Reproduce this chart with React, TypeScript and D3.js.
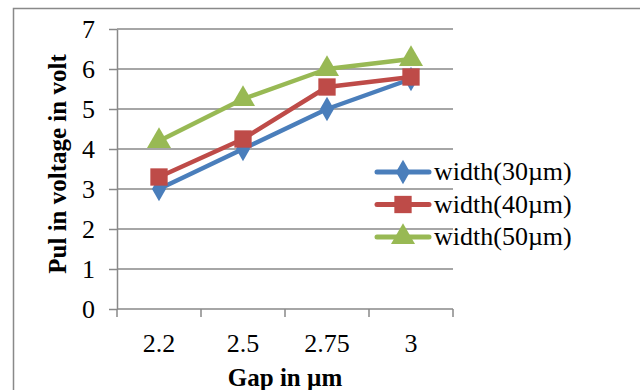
import React, { useEffect, useRef } from 'react';
import * as d3 from 'd3';

const gaps = ['2.2', '2.5', '2.75', '3'];
const yTicks = [0, 1, 2, 3, 4, 5, 6, 7];
const w30 = [3.0, 4.0, 5.0, 5.75];
const w40 = [3.3, 4.25, 5.55, 5.8];
const w50 = [4.2, 5.25, 6.0, 6.25];
const seriesNames = ['width(30µm)', 'width(40µm)', 'width(50µm)'];

/* excel 2007 palette */
const colors = ['#4a7ebb', '#be4b48', '#98b954'];
const shapes = [d3.symbolDiamond, d3.symbolSquare, d3.symbolTriangle];
const sizes = [170, 300, 250];

const W = 640, H = 390;
const M = { t: 29, r: 187, b: 81, l: 117 }; // plot box 117..453 x 29..309
const font = '"Liberation Serif", "Times New Roman", serif';
const grid = '#898989';

export default function App() {
  const ref = useRef<SVGSVGElement>(null);

  useEffect(() => {
    const svg = d3.select(ref.current);
    svg.selectAll('*').remove();

    const x = d3.scaleBand().domain(gaps).range([M.l, W - M.r]);
    const y = d3.scaleLinear().domain([0, 7]).range([H - M.b, M.t]);

    /* outer frame (runs off the page at right/bottom) */
    svg.append('rect')
      .attr('x', 13.5).attr('y', 8.5)
      .attr('width', 700).attr('height', 500)
      .attr('fill', 'none').attr('stroke', grid).attr('stroke-width', 1.5);

    /* gridlines */
    svg.append('g')
      .selectAll('line')
      .data(yTicks.slice(1))
      .join('line')
      .attr('x1', M.l).attr('x2', W - M.r)
      .attr('y1', d => y(d)).attr('y2', d => y(d))
      .attr('stroke', grid).attr('stroke-width', 1.5);

    /* y axis */
    const ya = svg.append('g')
      .attr('transform', `translate(${M.l},0)`)
      .call(d3.axisLeft(y).tickValues(yTicks).tickFormat(d3.format('d'))
        .tickSize(8).tickSizeOuter(0).tickPadding(14));
    ya.selectAll('path,line').attr('stroke', grid).attr('stroke-width', 1.5);
    ya.selectAll('text').attr('font-family', font).attr('font-size', 26).attr('fill', '#000');

    /* x axis: ticks between categories */
    const xa = svg.append('g').attr('transform', `translate(0,${H - M.b})`);
    xa.append('line')
      .attr('x1', M.l).attr('x2', W - M.r)
      .attr('stroke', grid).attr('stroke-width', 1.5);
    const edges = gaps.map(g => x(g)!).concat([W - M.r]);
    xa.selectAll('line.tk')
      .data(edges)
      .join('line')
      .attr('class', 'tk')
      .attr('x1', d => d).attr('x2', d => d)
      .attr('y1', 0).attr('y2', 8)
      .attr('stroke', grid).attr('stroke-width', 1.5);
    xa.selectAll('text')
      .data(gaps)
      .join('text')
      .attr('x', d => x(d)! + x.bandwidth() / 2)
      .attr('y', 43)
      .attr('text-anchor', 'middle')
      .attr('font-family', font).attr('font-size', 26)
      .text(d => d);

    /* axis titles */
    svg.append('text')
      .attr('transform', `translate(66,${164}) rotate(-90)`)
      .attr('text-anchor', 'middle')
      .attr('font-family', font).attr('font-size', 25).attr('font-weight', 'bold')
      .text('Pul in voltage in volt');

    svg.append('text')
      .attr('x', (M.l + W - M.r) / 2)
      .attr('y', 386)
      .attr('text-anchor', 'middle')
      .attr('font-family', font).attr('font-size', 25).attr('font-weight', 'bold')
      .text('Gap in µm');

    /* series */
    const cx = (i: number) => x(gaps[i])! + x.bandwidth() / 2;
    const line = d3.line<number>().x((_, i) => cx(i)).y(d => y(d));

    [w30, w40, w50].forEach((vals, s) => {
      svg.append('path')
        .datum(vals)
        .attr('fill', 'none')
        .attr('stroke', colors[s])
        .attr('stroke-width', 4.5)
        .attr('stroke-linejoin', 'round')
        .attr('d', line);

      svg.append('g')
        .selectAll('path')
        .data(vals)
        .join('path')
        .attr('transform', (d, i) => `translate(${cx(i)},${y(d)})`)
        .attr('d', d3.symbol().type(shapes[s]).size(sizes[s])())
        .attr('fill', colors[s]);
    });

    /* legend */
    const lg = svg.append('g');
    seriesNames.forEach((name, s) => {
      const ly = 172 + s * 32.5;
      lg.append('line')
        .attr('x1', 377).attr('x2', 429)
        .attr('y1', ly).attr('y2', ly)
        .attr('stroke', colors[s]).attr('stroke-width', 5)
        .attr('stroke-linecap', 'round');
      lg.append('path')
        .attr('transform', `translate(403,${ly})`)
        .attr('d', d3.symbol().type(shapes[s]).size(sizes[s])())
        .attr('fill', colors[s]);
      lg.append('text')
        .attr('x', 434).attr('y', ly + 8)
        .attr('font-family', font).attr('font-size', 26)
        .text(name);
    });
  }, []);

  return (
    <svg
      ref={ref}
      width={W}
      height={H}
      style={{ position: 'absolute', left: 0, top: 0, background: '#fff' }}
    />
  );
}
